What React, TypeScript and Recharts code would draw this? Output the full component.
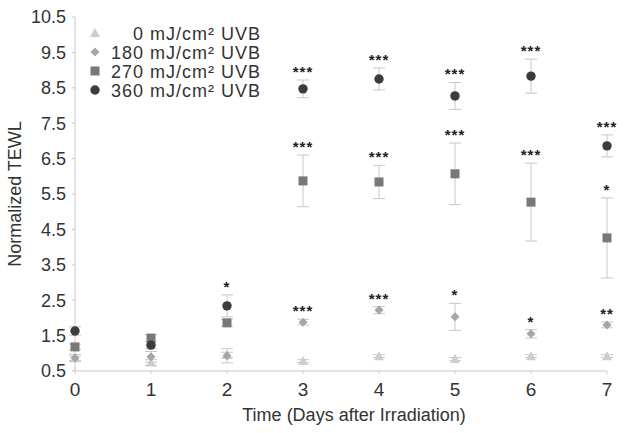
import React from 'react';
import { ScatterChart, Scatter, XAxis, YAxis, ErrorBar, Legend, Label } from 'recharts';

const days = [0, 1, 2, 3, 4, 5, 6, 7];
const yTicks = [0.5, 1.5, 2.5, 3.5, 4.5, 5.5, 6.5, 7.5, 8.5, 9.5, 10.5];

const dose0 = [0.86, 0.74, 0.95, 0.78, 0.92, 0.84, 0.92, 0.92];
const dose0Err = [0.06, 0.08, 0.08, 0.04, 0.04, 0.04, 0.04, 0.04];

const dose180 = [0.87, 0.9, 0.93, 1.88, 2.22, 2.03, 1.55, 1.8];
const dose180Err = [0.1, 0.15, 0.2, 0.08, 0.1, 0.38, 0.12, 0.08];
const dose180Sig = ['', '', '', '***', '***', '*', '*', '**'];

const dose270 = [1.18, 1.43, 1.86, 5.87, 5.84, 6.07, 5.27, 4.26];
const dose270Err = [0.08, 0.1, 0.1, 0.73, 0.47, 0.87, 1.1, 1.13];
const dose270Sig = ['', '', '', '***', '***', '***', '***', '*'];

const dose360 = [1.63, 1.23, 2.34, 8.47, 8.75, 8.27, 8.83, 6.86];
const dose360Err = [0.12, 0.1, 0.31, 0.25, 0.31, 0.38, 0.48, 0.31];
const dose360Sig = ['', '', '*', '***', '***', '***', '***', '***'];

const legendLabels = ['0 mJ/cm\u00B2 UVB', '180 mJ/cm\u00B2 UVB', '270 mJ/cm\u00B2 UVB', '360 mJ/cm\u00B2 UVB'];

const FONT = '"Liberation Sans", Arial, Helvetica, sans-serif';
const C0 = '#cdcdcd';
const C180 = '#a6a6a6';
const C270 = '#787878';
const C360 = '#3c3c3c';
const ERR = '#c8c8c8';

const toPoints = (vals: number[], errs: number[]) =>
  days.map((d, i) => ({ x: d, y: vals[i], err: errs[i] }));

const toSig = (vals: number[], errs: number[], sig: string[]) =>
  days
    .map((d, i) => ({ x: d, y: vals[i] + errs[i], sig: sig[i] }))
    .filter((p) => p.sig !== '');

const Triangle = ({ cx, cy, fill }: any) => (
  <path d={`M${cx},${cy - 5} L${cx + 5},${cy + 4} L${cx - 5},${cy + 4} Z`} fill={fill} />
);
const Diamond = ({ cx, cy, fill }: any) => (
  <path d={`M${cx},${cy - 4.5} L${cx + 4.5},${cy} L${cx},${cy + 4.5} L${cx - 4.5},${cy} Z`} fill={fill} />
);
const Square = ({ cx, cy, fill }: any) => (
  <rect x={cx - 4.5} y={cy - 4.5} width={9} height={9} fill={fill} />
);
const Circle = ({ cx, cy, fill }: any) => <circle cx={cx} cy={cy} r={4.7} fill={fill} />;

const Stars = ({ cx, cy, payload }: any) => (
  <text
    x={cx}
    y={cy - 3}
    textAnchor="middle"
    fontFamily={FONT}
    fontSize={15}
    fontWeight="bold"
    fill="#222"
    letterSpacing={1}
  >
    {payload.sig}
  </text>
);

const shapes = [Triangle, Diamond, Square, Circle];
const colors = [C0, C180, C270, C360];

const renderLegend = () => (
  <svg width={300} height={110} style={{ display: 'block' }}>
    {legendLabels.map((lab, i) => {
      const Shape = shapes[i];
      const cy = 33 + i * 19;
      return (
        <g key={lab}>
          <Shape cx={95} cy={cy} fill={colors[i]} />
          <text
            x={261}
            y={cy + 6.5}
            textAnchor="end"
            fontFamily={FONT}
            fontSize={18}
            letterSpacing={1}
            fill="#333"
          >
            {lab}
          </text>
        </g>
      );
    })}
  </svg>
);

export default function App() {
  return (
    <div style={{ position: 'absolute', left: 0, top: 0, width: 626, height: 433, background: '#fff' }}>
      <ScatterChart width={626} height={433} margin={{ top: 17, right: 19, bottom: 22, left: 0 }}>
        <XAxis
          type="number"
          dataKey="x"
          domain={[0, 7]}
          ticks={days}
          axisLine={{ stroke: '#c8c8c8' }}
          tickLine={{ stroke: '#c8c8c8' }}
          tickSize={3}
          tickMargin={9}
          height={40}
          tick={{ fontFamily: FONT, fontSize: 19, fill: '#333' }}
        >
          <Label
            content={({ viewBox }: any) => (
              <text
                x={viewBox.x + viewBox.width / 2 + 13}
                y={viewBox.y + 50}
                textAnchor="middle"
                fontFamily={FONT}
                fontSize={18}
                fill="#333"
              >
                Time (Days after Irradiation)
              </text>
            )}
          />
        </XAxis>
        <YAxis
          type="number"
          dataKey="y"
          domain={[0.5, 10.5]}
          ticks={yTicks}
          width={75}
          axisLine={{ stroke: '#c8c8c8' }}
          tickLine={{ stroke: '#c8c8c8' }}
          tickSize={3}
          tickMargin={6}
          tick={{ fontFamily: FONT, fontSize: 18, fill: '#333' }}
        >
          <Label
            content={({ viewBox }: any) => {
              const cx = 21;
              const cy = viewBox.y + viewBox.height / 2;
              return (
                <text
                  x={cx}
                  y={cy}
                  transform={`rotate(-90 ${cx} ${cy})`}
                  textAnchor="middle"
                  fontFamily={FONT}
                  fontSize={18}
                  fill="#333"
                >
                  Normalized TEWL
                </text>
              );
            }}
          />
        </YAxis>
        <Legend
          layout="horizontal"
          verticalAlign="middle"
          align="center"
          content={renderLegend}
          wrapperStyle={{ position: 'absolute', left: 0, top: 0, width: 300, height: 110 }}
        />
        <Scatter name="0" data={toPoints(dose0, dose0Err)} fill={C0} shape={Triangle} isAnimationActive={false}>
          <ErrorBar dataKey="err" direction="y" width={6} stroke={ERR} strokeWidth={1} />
        </Scatter>
        <Scatter name="180" data={toPoints(dose180, dose180Err)} fill={C180} shape={Diamond} isAnimationActive={false}>
          <ErrorBar dataKey="err" direction="y" width={6} stroke={ERR} strokeWidth={1} />
        </Scatter>
        <Scatter name="270" data={toPoints(dose270, dose270Err)} fill={C270} shape={Square} isAnimationActive={false}>
          <ErrorBar dataKey="err" direction="y" width={6} stroke={ERR} strokeWidth={1} />
        </Scatter>
        <Scatter name="360" data={toPoints(dose360, dose360Err)} fill={C360} shape={Circle} isAnimationActive={false}>
          <ErrorBar dataKey="err" direction="y" width={6} stroke={ERR} strokeWidth={1} />
        </Scatter>
        <Scatter name="sig180" data={toSig(dose180, dose180Err, dose180Sig)} shape={Stars} legendType="none" isAnimationActive={false} />
        <Scatter name="sig270" data={toSig(dose270, dose270Err, dose270Sig)} shape={Stars} legendType="none" isAnimationActive={false} />
        <Scatter name="sig360" data={toSig(dose360, dose360Err, dose360Sig)} shape={Stars} legendType="none" isAnimationActive={false} />
      </ScatterChart>
    </div>
  );
}
